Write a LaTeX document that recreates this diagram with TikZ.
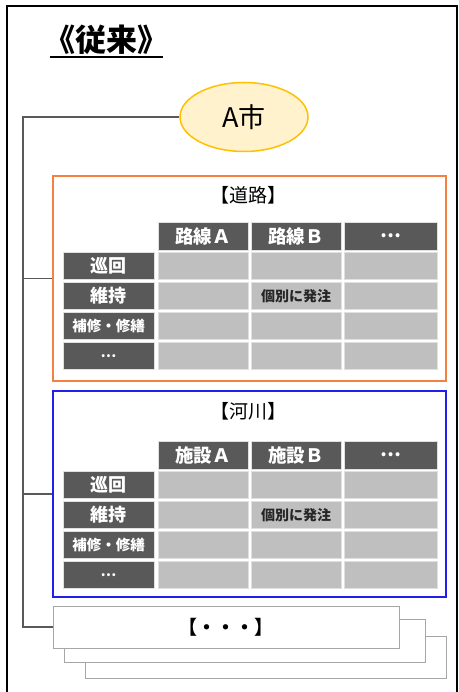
\documentclass[tikz,border=0pt]{standalone}
\usepackage{fontspec}
\setmainfont{Noto Sans CJK JP}
\usetikzlibrary{shapes.geometric}

\definecolor{darkcell}{HTML}{595959}
\definecolor{lightcell}{HTML}{BFBFBF}
\definecolor{roadline}{HTML}{F4813F}
\definecolor{riverline}{HTML}{2020E8}
\definecolor{cityfill}{HTML}{FFF2CC}
\definecolor{cityline}{HTML}{FFC000}
\definecolor{stackline}{HTML}{A6A6A6}

\tikzset{
  headcell/.style={fill=darkcell, draw=white!88!black, line width=0.8pt, text=white,
    inner sep=0pt, minimum width=90pt, minimum height=28pt,
    font=\bfseries\fontsize{18.5}{18.5}\selectfont},
  rowcell/.style={fill=darkcell, draw=white!88!black, line width=0.8pt, text=white,
    inner sep=0pt, minimum width=91pt, minimum height=27pt},
  datacell/.style={fill=lightcell, draw=white!88!black, line width=0.8pt,
    inner sep=0pt, minimum height=27pt},
  groupbox/.style={line width=1.2pt, inner sep=0pt, minimum width=393pt},
  stackbox/.style={draw=stackline, fill=white, line width=1pt, inner sep=0pt},
  conn/.style={draw=darkcell, line width=1.2pt}
}

\begin{document}
\begin{tikzpicture}[x=1pt, y=-1pt]

  \useasboundingbox (0,0) rectangle (458,692);
  \draw[line width=1.6pt] (7,700) -- (7,6) -- (457,6) -- (457,700);

  \node[font=\bfseries\fontsize{31}{31}\selectfont, inner sep=0pt] (title) at (106,40) {《従来》};
  \draw[line width=1.3pt] (50,57) -- (163,57);

  \node[ellipse, draw=cityline, fill=cityfill, line width=1.5pt, minimum width=128pt,
    minimum height=69pt, font=\fontsize{27}{27}\selectfont] (city) at (244,117) {A市};

  \node[groupbox, draw=roadline, minimum height=205pt] (road) at (249.5,278.5) {};
  \node[groupbox, draw=riverline, minimum height=206pt] (river) at (249.5,494) {};

  \node[font=\fontsize{19}{19}\selectfont] (road-title) at (248,195) {【道路】};
  \node[font=\fontsize{19}{19}\selectfont] (river-title) at (248,411) {【河川】};

  \foreach \dy/\pre/\item in {0/road/路線, 219/river/施設} {
    \node[headcell] (\pre-h1) at (203,236+\dy) {\item Ａ};
    \node[headcell] (\pre-h2) at (296,236+\dy) {\item Ｂ};
    \node[headcell, minimum width=93pt] (\pre-h3) at (390.5,236+\dy) {…};
    \foreach \lab/\fs [count=\i] in {巡回/18, 維持/18, 補修・修繕/14.5, …/14}
      \node[rowcell, font=\bfseries\fontsize{\fs}{\fs}\selectfont] (\pre-r\i) at (108.5,236+30*\i+\dy) {\lab};
    \foreach \i in {1,...,4}
      \foreach \x/\j/\w in {203/1/90, 296/2/90, 390.5/3/93}
        \node[datacell, minimum width=\w pt] (\pre-c\i\j) at (\x,236+30*\i+\dy) {};
    \node[text=black!85, font=\bfseries\fontsize{14}{14}\selectfont] (\pre-note) at (\pre-c22) {個別に発注};
  }

  \node[stackbox, minimum width=361pt, minimum height=42pt] (other3) at (265.5,657) {};
  \node[stackbox, minimum width=361pt, minimum height=43pt] (other2) at (244.5,640.5) {};
  \node[stackbox, minimum width=346pt, minimum height=42pt,
    font=\bfseries\fontsize{19}{19}\selectfont] (other) at (226,627) {【・・・】};

  \coordinate (trunk) at (23,117);
  \draw[conn] (city.west) -- (trunk) |- (other.west);
  \draw[conn] (trunk |- road.west) -- (road.west);
  \draw[conn] (trunk |- river.west) -- (river.west);

\end{tikzpicture}
\end{document}
